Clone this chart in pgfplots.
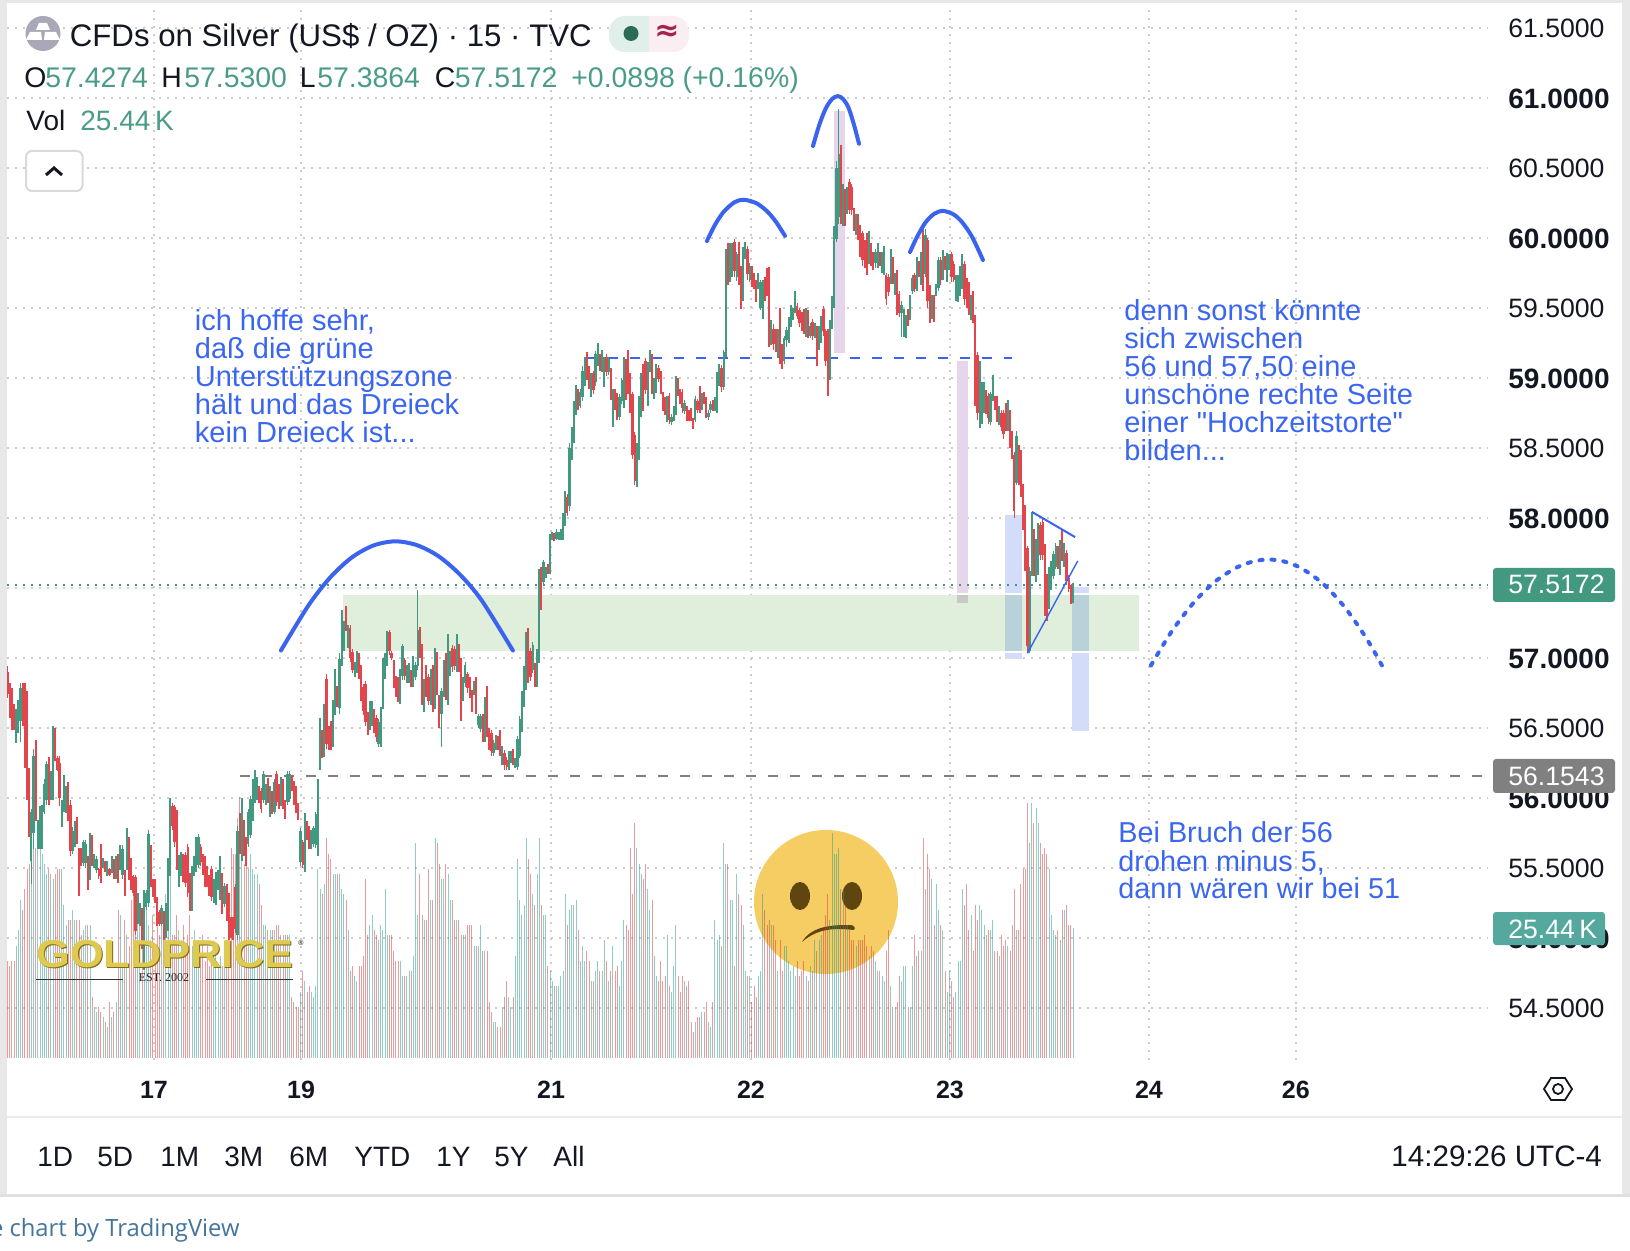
\documentclass[border=0pt]{standalone}
\usepackage{fontspec}
\setmainfont{Liberation Sans}
\newfontfamily\plainq{Liberation Sans}
\newfontfamily\serifx{Liberation Serif}
\newfontfamily\opensans{Open Sans}
\newfontfamily\dejavu{DejaVu Sans}
\usepackage{pgfplots}
\usepackage{pgfplotstable}
\pgfplotsset{compat=1.18}
\definecolor{cg}{HTML}{43997F}
\definecolor{cr}{HTML}{E2464C}
\definecolor{vg}{HTML}{279B8B}
\definecolor{vr}{HTML}{D73939}
\definecolor{txt}{HTML}{131722}
\definecolor{gt}{HTML}{4A9C88}
\definecolor{blu}{HTML}{3A64F0}
\definecolor{tb}{HTML}{3B66F0}
\pgfplotstableread{
i o h l c v
0 56.90 56.94 56.71 56.74 19
1 56.80 56.82 56.57 56.60 18
2 56.72 56.78 56.48 56.55 19
3 56.64 56.67 56.48 56.51 19
4 56.42 56.63 56.39 56.60 22
5 56.50 56.70 56.46 56.66 25
6 56.55 56.82 56.40 56.78 31
7 56.80 56.82 56.51 56.55 29
8 56.78 56.82 56.21 56.25 33
9 56.72 56.76 55.98 56.05 37
10 56.20 56.21 55.72 55.75 38
11 55.55 55.92 55.38 55.90 34
12 55.75 56.35 55.63 56.30 41
13 56.38 56.41 55.83 55.90 41
14 55.68 55.84 55.63 55.82 41
15 55.66 55.94 55.63 55.90 41
16 55.70 55.95 55.63 55.92 40
17 55.90 56.13 55.88 56.10 38
18 55.98 56.26 55.95 56.24 36
19 56.26 56.29 55.95 55.98 37
20 56.00 56.19 55.98 56.16 36
21 56.02 56.51 55.98 56.48 35
22 56.48 56.50 56.26 56.28 36
23 56.28 56.30 56.19 56.20 37
24 56.25 56.30 55.94 56.00 37
25 55.85 55.98 55.79 55.95 37
26 55.95 56.16 55.90 56.12 30
27 55.92 56.08 55.89 56.05 26
28 56.08 56.11 55.83 55.88 27
29 55.95 55.98 55.58 55.62 27
30 55.62 55.79 55.60 55.76 29
31 55.68 55.83 55.65 55.80 27
32 55.84 55.86 55.67 55.70 27
33 55.60 55.64 55.30 55.40 27
34 55.62 55.64 55.51 55.53 24
35 55.53 55.70 55.51 55.68 25
36 55.53 55.70 55.50 55.67 26
37 55.56 55.58 55.34 55.37 26
38 55.45 55.75 55.41 55.72 26
39 55.70 55.73 55.51 55.54 12
40 55.52 55.60 55.50 55.58 10
41 55.48 55.58 55.46 55.56 9
42 55.49 55.50 55.42 55.44 10
43 55.65 55.67 55.39 55.42 9
44 55.51 55.57 55.50 55.55 8
45 55.54 55.55 55.47 55.48 7
46 55.46 55.55 55.44 55.53 6
47 55.49 55.50 55.44 55.45 11
48 55.48 55.58 55.46 55.56 8
49 55.54 55.56 55.42 55.45 9
50 55.44 55.58 55.42 55.56 11
51 55.58 55.60 55.39 55.42 29
52 55.50 55.66 55.48 55.64 28
53 55.45 55.66 55.42 55.63 18
54 55.46 55.48 55.30 55.33 27
55 55.50 55.78 55.48 55.75 24
56 55.70 55.72 55.41 55.44 22
57 55.55 55.57 55.34 55.37 31
58 55.44 55.45 55.30 55.32 33
59 55.43 55.45 55.02 55.05 35
60 55.12 55.32 55.10 55.30 32
61 55.10 55.25 55.08 55.23 30
62 55.19 55.21 54.92 54.95 28
63 54.80 55.34 54.77 55.32 25
64 55.22 55.34 55.20 55.32 31
65 55.25 55.77 55.22 55.74 26
66 55.64 55.66 55.36 55.40 23
67 55.40 55.42 55.29 55.31 28
68 55.40 55.42 55.25 55.27 22
69 55.27 55.29 55.08 55.11 26
70 55.18 55.20 55.08 55.10 24
71 55.10 55.23 55.08 55.21 30
72 55.17 55.19 54.98 55.01 26
73 55.02 55.25 55.00 55.23 32
74 55.08 55.57 55.05 55.54 28
75 55.47 56.00 55.44 55.97 36
76 55.94 55.96 55.77 55.80 24
77 55.93 55.95 55.65 55.68 24
78 55.89 55.91 55.48 55.52 28
79 55.39 55.59 55.36 55.57 25
80 55.46 55.61 55.44 55.59 23
81 55.58 55.60 55.40 55.43 26
82 55.59 55.61 55.36 55.39 20
83 55.65 55.67 55.29 55.32 24
84 55.44 55.46 55.19 55.22 28
85 55.22 55.51 55.19 55.48 22
86 55.46 55.58 55.44 55.56 25
87 55.49 55.72 55.47 55.70 21
88 55.52 55.74 55.50 55.72 23
89 55.65 55.67 55.51 55.54 20
90 55.58 55.60 55.45 55.48 24
91 55.56 55.58 55.36 55.39 19
92 55.49 55.51 55.36 55.38 22
93 55.43 55.45 55.30 55.33 18
94 55.49 55.51 55.26 55.29 21
95 55.27 55.42 55.25 55.40 20
96 55.25 55.47 55.23 55.45 22
97 55.36 55.48 55.34 55.46 18
98 55.30 55.58 55.27 55.55 20
99 55.44 55.46 55.17 55.20 18
100 55.24 55.39 55.22 55.37 20
101 55.36 55.38 55.12 55.15 22
102 55.30 55.32 54.98 55.01 24
103 55.13 55.15 55.00 55.02 41
104 55.13 55.15 54.98 55.00 40
105 55.36 55.38 55.03 55.06 40
106 55.02 55.80 54.98 55.76 47
107 55.87 55.89 55.60 55.63 51
108 55.58 56.00 55.55 55.96 40
109 55.82 55.84 55.58 55.61 38
110 55.70 55.72 55.51 55.54 42
111 55.67 55.92 55.65 55.90 37
112 55.73 56.01 55.71 55.99 40
113 55.85 56.13 55.83 56.11 37
114 55.98 56.20 55.96 56.18 36
115 56.00 56.15 55.98 56.13 36
116 56.06 56.08 55.96 55.98 34
117 56.05 56.07 55.89 55.92 30
118 55.98 56.19 55.96 56.17 26
119 55.97 56.10 55.95 56.08 26
120 56.12 56.14 55.96 55.98 25
121 55.88 56.08 55.86 56.06 25
122 56.03 56.05 55.88 55.90 25
123 55.90 56.13 55.88 56.11 25
124 56.17 56.19 55.94 55.97 26
125 56.08 56.10 55.92 55.94 26
126 55.96 56.15 55.94 56.13 24
127 56.11 56.13 55.92 55.94 24
128 55.96 55.98 55.85 55.87 24
129 55.97 56.19 55.95 56.17 24
130 55.99 56.19 55.97 56.17 24
131 56.14 56.16 56.05 56.07 12
132 56.10 56.12 55.95 55.97 11
133 56.06 56.08 55.89 55.92 10
134 55.94 55.96 55.84 55.86 10
135 55.54 55.78 55.51 55.76 13
136 55.68 55.70 55.50 55.52 17
137 55.50 55.89 55.47 55.86 15
138 55.81 55.83 55.70 55.72 13
139 55.78 55.80 55.63 55.66 14
140 55.65 55.77 55.63 55.75 13
141 55.67 55.80 55.65 55.78 12
142 55.66 55.90 55.64 55.88 14
143 55.61 56.13 55.58 56.10 37
144 56.24 56.57 56.20 56.54 33
145 56.46 56.48 56.28 56.31 32
146 56.32 56.67 56.29 56.64 34
147 56.85 56.88 56.35 56.38 43
148 56.49 56.51 56.34 56.36 40
149 56.53 56.55 56.34 56.37 39
150 56.39 56.70 56.36 56.67 36
151 56.62 56.92 56.59 56.89 36
152 56.78 56.80 56.65 56.67 36
153 56.64 57.03 56.60 56.99 36
154 56.98 57.34 56.94 57.31 33
155 57.08 57.26 57.05 57.24 32
156 57.35 57.37 57.19 57.21 31
157 57.10 57.23 57.07 57.21 25
158 57.21 57.23 56.97 57.00 17
159 57.04 57.06 56.89 56.91 18
160 56.88 56.97 56.86 56.95 16
161 56.92 57.05 56.89 57.03 15
162 57.01 57.03 56.85 56.88 18
163 56.93 56.95 56.69 56.72 18
164 56.79 56.81 56.59 56.62 20
165 56.81 56.83 56.51 56.54 35
166 56.59 56.61 56.45 56.47 24
167 56.50 56.69 56.48 56.67 26
168 56.53 56.69 56.51 56.67 28
169 56.61 56.63 56.46 56.48 25
170 56.57 56.59 56.40 56.43 24
171 56.38 56.56 56.36 56.54 23
172 56.39 56.65 56.36 56.63 26
173 56.66 57.00 56.63 56.97 25
174 56.88 57.03 56.85 57.01 33
175 56.97 57.19 56.94 57.17 24
176 57.18 57.20 57.02 57.05 24
177 57.03 57.05 56.98 57.00 24
178 56.96 56.98 56.78 56.81 21
179 56.85 56.87 56.72 56.75 19
180 56.84 56.86 56.68 56.71 19
181 56.70 56.92 56.67 56.90 19
182 56.87 57.10 56.84 57.08 16
183 56.98 57.00 56.84 56.87 16
184 56.84 56.95 56.82 56.93 16
185 56.84 56.96 56.82 56.94 17
186 56.89 56.91 56.79 56.81 17
187 56.81 57.01 56.79 56.99 20
188 56.86 56.97 56.84 56.95 42
189 56.94 57.48 56.91 57.20 28
190 57.20 57.22 57.00 57.03 36
191 57.08 57.10 56.66 56.70 28
192 56.64 56.85 56.61 56.83 27
193 56.93 56.95 56.72 56.75 27
194 56.86 56.88 56.66 56.69 37
195 56.69 56.92 56.66 56.90 31
196 56.93 56.95 56.61 56.64 31
197 56.66 57.07 56.63 57.04 43
198 57.02 57.04 56.73 56.76 42
199 56.71 56.73 56.50 56.53 38
200 56.60 56.78 56.36 56.76 35
201 56.75 56.98 56.72 56.96 35
202 57.01 57.03 56.70 56.73 38
203 56.69 57.17 56.66 57.14 36
204 56.90 57.05 56.87 57.03 31
205 57.07 57.09 56.90 56.93 31
206 57.06 57.08 56.91 56.94 27
207 56.93 57.17 56.90 57.15 27
208 57.08 57.10 56.90 56.93 27
209 56.98 57.00 56.55 56.60 24
210 56.72 56.86 56.69 56.84 24
211 56.82 56.97 56.79 56.95 24
212 56.88 56.90 56.75 56.78 26
213 56.84 56.86 56.71 56.74 26
214 56.75 56.77 56.61 56.64 26
215 56.75 56.83 56.73 56.81 22
216 56.84 56.86 56.60 56.63 22
217 56.52 56.60 56.50 56.58 22
218 56.49 56.60 56.47 56.58 26
219 56.58 56.60 56.40 56.43 21
220 56.43 56.72 56.40 56.70 21
221 56.78 56.80 56.43 56.46 21
222 56.48 56.50 56.34 56.37 11
223 56.46 56.48 56.30 56.33 9
224 56.32 56.41 56.30 56.39 7
225 56.36 56.45 56.34 56.43 7
226 56.42 56.44 56.34 56.36 6
227 56.46 56.48 56.30 56.33 6
228 56.25 56.37 56.23 56.35 10
229 56.32 56.34 56.20 56.23 12
230 56.27 56.29 56.20 56.22 15
231 56.22 56.33 56.20 56.31 12
232 56.27 56.33 56.25 56.31 10
233 56.33 56.35 56.23 56.25 12
234 56.23 56.28 56.21 56.26 20
235 56.22 56.44 56.20 56.42 39
236 56.30 56.58 56.28 56.56 31
237 56.49 56.76 56.47 56.74 28
238 56.67 56.94 56.65 56.92 30
239 56.79 57.18 56.77 57.15 43
240 57.19 57.21 56.82 56.85 39
241 57.05 57.07 56.83 56.86 36
242 56.91 57.11 56.89 57.09 32
243 56.94 56.96 56.79 56.82 30
244 56.81 57.06 56.79 57.04 36
245 56.98 57.63 56.96 57.60 43
246 57.63 57.65 57.34 57.37 30
247 57.54 57.70 57.52 57.68 28
248 57.59 57.65 57.57 57.63 28
249 57.66 57.67 57.60 57.62 18
250 57.62 57.88 57.60 57.86 17
251 57.86 57.90 57.84 57.88 15
252 57.88 57.89 57.83 57.85 14
253 57.85 57.92 57.84 57.90 14
254 57.86 57.90 57.84 57.88 14
255 57.86 57.92 57.84 57.90 16
256 57.87 58.03 57.84 58.01 17
257 57.97 58.19 57.94 58.16 32
258 58.15 58.17 58.01 58.03 26
259 58.08 58.53 58.05 58.50 29
260 58.44 58.65 58.41 58.63 30
261 58.56 58.83 58.53 58.80 30
262 58.75 58.95 58.73 58.93 31
263 58.90 58.92 58.77 58.80 25
264 58.80 58.92 58.78 58.90 19
265 58.86 59.08 58.83 59.05 22
266 58.97 59.15 58.94 59.13 19
267 59.16 59.18 58.98 59.01 21
268 59.06 59.08 58.92 58.95 19
269 58.88 59.03 58.86 59.01 15
270 59.03 59.05 58.88 58.91 15
271 58.97 59.19 58.94 59.17 17
272 59.10 59.25 59.08 59.23 19
273 59.15 59.17 59.05 59.07 17
274 59.06 59.20 59.04 59.18 17
275 58.95 59.15 58.93 59.13 23
276 59.15 59.17 59.01 59.04 19
277 59.04 59.15 59.02 59.13 15
278 59.05 59.07 58.84 58.87 17
279 58.68 58.92 58.65 58.90 22
280 58.90 58.92 58.77 58.80 17
281 58.87 58.89 58.70 58.73 18
282 58.72 58.88 58.70 58.86 14
283 58.83 59.00 58.81 58.98 19
284 58.80 59.15 58.78 59.13 27
285 59.11 59.13 58.84 58.87 26
286 59.18 59.20 58.88 58.91 25
287 59.01 59.03 58.75 58.78 41
288 58.88 58.90 58.42 58.45 32
289 58.59 58.61 58.23 58.26 46
290 58.25 58.53 58.22 58.51 41
291 58.44 58.87 58.41 58.85 38
292 58.75 59.03 58.72 59.01 36
293 59.08 59.10 58.76 58.79 35
294 59.12 59.14 58.88 58.91 38
295 58.83 59.11 58.80 59.09 33
296 59.07 59.20 59.04 59.18 29
297 59.15 59.17 58.88 58.91 31
298 58.87 59.00 58.85 58.98 20
299 58.92 59.10 58.89 59.08 16
300 59.07 59.09 58.97 58.99 15
301 59.03 59.05 58.88 58.91 19
302 58.88 58.90 58.76 58.78 15
303 58.84 58.86 58.73 58.75 16
304 58.70 58.87 58.68 58.85 24
305 58.87 58.89 58.67 58.70 14
306 58.68 58.74 58.66 58.72 13
307 58.71 58.80 58.69 58.78 18
308 58.76 59.01 58.73 58.99 26
309 58.98 59.00 58.87 58.89 16
310 58.90 58.92 58.81 58.83 13
311 58.90 58.92 58.75 58.78 16
312 58.76 58.84 58.74 58.82 15
313 58.78 58.80 58.69 58.71 14
314 58.75 58.77 58.69 58.71 15
315 58.76 58.78 58.69 58.71 7
316 58.70 58.71 58.63 58.65 5
317 58.70 58.87 58.68 58.85 7
318 58.83 58.85 58.75 58.77 8
319 58.92 58.94 58.75 58.78 8
320 58.79 58.89 58.77 58.87 9
321 58.88 58.90 58.81 58.83 9
322 58.84 58.86 58.71 58.74 11
323 58.72 58.77 58.70 58.75 7
324 58.77 58.83 58.75 58.81 6
325 58.82 58.84 58.76 58.78 11
326 58.78 58.86 58.76 58.84 27
327 58.78 59.04 58.75 59.01 23
328 58.96 59.10 58.94 59.08 24
329 59.07 59.09 58.90 58.93 22
330 58.93 59.20 58.91 59.18 42
331 59.25 59.92 59.15 59.85 38
332 59.94 59.96 59.66 59.70 38
333 59.71 59.96 59.68 59.94 31
334 59.74 59.96 59.72 59.94 31
335 59.97 59.99 59.72 59.76 18
336 59.72 59.90 59.69 59.88 36
337 59.95 59.97 59.66 59.70 32
338 59.78 59.80 59.49 59.53 30
339 59.58 59.93 59.55 59.90 26
340 59.87 59.97 59.85 59.95 17
341 59.92 59.94 59.70 59.74 16
342 59.70 59.82 59.68 59.80 16
343 59.78 59.80 59.65 59.68 11
344 59.73 59.75 59.63 59.66 14
345 59.68 59.70 59.54 59.57 12
346 59.65 59.75 59.63 59.73 16
347 59.50 59.70 59.48 59.68 17
348 59.44 59.70 59.42 59.68 32
349 59.68 59.72 59.55 59.60 29
350 59.76 59.78 59.58 59.62 26
351 59.67 59.79 59.22 59.26 27
352 59.25 59.41 59.23 59.39 26
353 59.35 59.38 59.20 59.24 26
354 59.33 59.35 59.18 59.21 23
355 59.16 59.35 59.14 59.33 17
356 59.48 59.50 59.10 59.14 23
357 59.22 59.24 59.06 59.09 17
358 59.12 59.30 59.10 59.28 22
359 59.27 59.36 59.22 59.34 22
360 59.27 59.43 59.25 59.41 19
361 59.38 59.52 59.36 59.50 17
362 59.43 59.50 59.41 59.48 18
363 59.48 59.62 59.46 59.60 16
364 59.51 59.53 59.42 59.44 19
365 59.48 59.50 59.36 59.39 16
366 59.45 59.47 59.33 59.35 17
367 59.47 59.49 59.31 59.34 19
368 59.31 59.50 59.29 59.48 16
369 59.46 59.48 59.28 59.31 15
370 59.30 59.39 59.28 59.37 18
371 59.40 59.42 59.27 59.30 17
372 59.30 59.39 59.28 59.37 23
373 59.35 59.37 59.08 59.12 21
374 59.22 59.37 59.20 59.35 23
375 59.27 59.44 59.25 59.42 24
376 59.49 59.51 59.30 59.33 25
377 59.33 59.35 59.08 59.12 28
378 59.33 59.35 58.87 58.92 32
379 59.00 59.41 58.98 59.38 27
380 59.37 59.58 59.35 59.56 44
381 59.52 60.08 59.50 60.05 40
382 59.99 60.55 59.97 60.50 40
383 60.15 60.92 60.10 60.60 41
384 60.63 60.66 60.10 60.14 33
385 60.10 60.38 60.08 60.35 33
386 60.33 60.35 60.08 60.12 30
387 60.19 60.36 60.17 60.34 26
388 60.40 60.42 60.17 60.20 25
389 60.36 60.38 60.16 60.20 23
390 60.19 60.21 60.05 60.08 23
391 60.04 60.17 60.02 60.15 22
392 60.15 60.17 59.98 60.01 23
393 60.07 60.09 59.86 59.90 23
394 60.03 60.05 59.80 59.84 23
395 59.90 59.98 59.78 59.82 24
396 60.01 60.03 59.73 59.77 22
397 59.83 60.05 59.81 60.03 20
398 59.94 59.96 59.80 59.83 22
399 59.88 59.90 59.77 59.80 21
400 59.82 59.92 59.78 59.90 19
401 59.80 59.96 59.78 59.94 17
402 59.88 59.90 59.80 59.82 17
403 59.78 59.90 59.75 59.88 16
404 59.75 59.94 59.73 59.92 15
405 59.73 59.75 59.52 59.56 21
406 59.72 59.74 59.58 59.61 25
407 59.69 59.92 59.67 59.90 14
408 59.84 59.86 59.67 59.71 10
409 59.61 59.75 59.59 59.73 10
410 59.75 59.77 59.45 59.49 11
411 59.60 59.62 59.43 59.46 16
412 59.46 59.55 59.29 59.52 15
413 59.31 59.49 59.29 59.47 18
414 59.30 59.45 59.28 59.43 18
415 59.47 59.49 59.37 59.40 10
416 59.43 59.59 59.41 59.57 10
417 59.62 59.73 59.60 59.71 18
418 59.73 59.75 59.61 59.63 24
419 59.64 59.86 59.62 59.84 20
420 59.80 59.83 59.72 59.75 21
421 59.68 59.90 59.66 59.88 21
422 60.04 60.06 59.62 59.66 43
423 59.74 60.06 59.72 60.02 33
424 59.98 60.00 59.50 59.55 40
425 59.64 59.66 59.39 59.43 37
426 59.44 59.59 59.42 59.57 35
427 59.57 59.59 59.40 59.43 26
428 59.60 59.67 59.58 59.65 34
429 59.64 59.86 59.62 59.84 29
430 59.84 59.86 59.66 59.70 26
431 59.72 59.91 59.70 59.89 25
432 59.85 59.87 59.77 59.79 17
433 59.70 59.89 59.68 59.87 13
434 59.79 59.88 59.77 59.86 17
435 59.88 59.90 59.68 59.72 15
436 59.81 59.83 59.68 59.70 12
437 59.57 59.73 59.55 59.71 13
438 59.56 59.73 59.54 59.71 19
439 59.60 59.80 59.58 59.78 19
440 59.65 59.88 59.63 59.86 33
441 59.81 59.83 59.52 59.56 30
442 59.69 59.71 59.50 59.54 34
443 59.66 59.68 59.45 59.49 25
444 59.43 59.59 59.41 59.57 28
445 59.60 59.62 59.39 59.42 21
446 59.43 59.45 58.80 58.86 30
447 59.16 59.18 58.70 58.75 27
448 58.66 59.12 58.64 59.08 30
449 58.69 58.97 58.67 58.95 29
450 58.77 58.97 58.75 58.95 26
451 58.89 58.91 58.74 58.77 24
452 58.87 58.89 58.67 58.71 25
453 58.68 58.90 58.66 58.88 25
454 58.85 59.02 58.83 59.00 27
455 58.85 58.87 58.77 58.79 21
456 58.85 58.87 58.68 58.72 21
457 58.70 58.80 58.66 58.78 20
458 58.75 58.77 58.62 58.65 24
459 58.75 58.77 58.56 58.60 22
460 58.80 58.82 58.62 58.65 23
461 58.64 58.84 58.62 58.82 22
462 58.75 58.77 58.50 58.54 21
463 58.60 58.62 58.42 58.45 26
464 58.45 58.47 58.00 58.05 33
465 58.25 58.62 58.23 58.58 25
466 58.50 58.52 58.23 58.30 25
467 58.46 58.48 58.15 58.20 34
468 58.22 58.24 57.91 57.95 37
469 57.78 58.09 57.62 57.65 37
470 57.78 57.80 57.03 57.08 50
471 57.05 57.65 57.03 57.62 42
472 57.60 58.04 57.58 58.01 50
473 57.90 57.92 57.58 57.62 46
474 57.56 57.85 57.54 57.83 49
475 57.61 57.96 57.59 57.94 46
476 57.95 57.97 57.70 57.73 42
477 57.97 57.99 57.70 57.73 40
478 57.79 57.81 57.30 57.34 41
479 57.58 57.60 57.26 57.30 40
480 57.37 57.65 57.35 57.63 37
481 57.50 57.69 57.48 57.67 28
482 57.58 57.76 57.56 57.74 25
483 57.65 57.82 57.63 57.80 24
484 57.78 57.80 57.63 57.66 25
485 57.61 57.84 57.59 57.82 23
486 57.90 57.92 57.69 57.72 29
487 57.67 57.82 57.65 57.80 29
488 57.75 57.77 57.52 57.55 30
489 57.57 57.59 57.47 57.49 26
490 57.50 57.52 57.38 57.41 26
491 57.4274 57.53 57.3864 57.5172 25.44
}\candles
\pgfplotsset{base/.style={scale only axis,width=740.5pt,height=527pt,at={(3.5pt,95pt)},anchor=south west,xmin=-0.23,xmax=682.25}}
\newcommand{\T}[5]{\node[anchor=base west,inner sep=0pt,text=#4,font=\fontsize{#3pt}{#3pt}\selectfont] at (#1,#2) {#5};}
\newcommand{\B}[1]{{\fontsize{14pt}{14pt}\selectfont\bfseries #1}}
\begin{document}
\begin{tikzpicture}
\path[use as bounding box,fill=white] (0,0) rectangle (815pt,625pt);
\begin{axis}[base,ymin=54.125,ymax=61.654,
 xtick={67.5,135.3,250.5,342.6,434.3,526,593.7},xticklabels={17,19,21,22,23,24,26},
 ytick={54.5,55,55.5,56,56.5,57,57.5,58,58.5,59,59.5,60,60.5,61,61.5},
 yticklabels={54.5000,\B{55.0000},55.5000,\B{56.0000},56.5000,\B{57.0000},57.5000,\B{58.0000},58.5000,\B{59.0000},59.5000,\B{60.0000},60.5000,\B{61.0000},61.5000},
 yticklabel pos=right,grid=major,major tick length=0pt,axis line style={draw=none},
 grid style={color=black!20,line width=1pt,dash pattern=on 1pt off 3pt},
 x tick label style={font=\fontsize{12.5pt}{12.5pt}\selectfont\bfseries,text=txt,anchor=center,yshift=-15pt},
 y tick label style={font=\fontsize{13.3pt}{13.3pt}\selectfont,text=txt,anchor=west,inner sep=0pt,xshift=10pt,yshift=-.5pt}]
\end{axis}
\begin{scope}[x=0.5pt,y=-0.5pt,yshift=625pt]
\fill[color={rgb,255:red,246;green,205;blue,99}] (826,902) circle (72);
\fill[color={rgb,255:red,95;green,69;blue,16}] (800,896) ellipse (10 and 14);
\fill[color={rgb,255:red,95;green,69;blue,16}] (852,896) ellipse (10 and 14);
\fill[color={rgb,255:red,95;green,69;blue,16}] (802,942) .. controls (812,925) and (835,925) .. (850,925) .. controls (854,925) and (856,928) .. (854,930) .. controls (835,928) and (818,928) .. cycle;
\end{scope}
\begin{axis}[base,hide axis,ymin=-0.39,ymax=205.87]
\addplot[ycomb,no marks,draw=vg,draw opacity=.5,line width=.45pt] table[x=i,y expr={\thisrow{c}>=\thisrow{o}?\thisrow{v}:nan}]{\candles};
\addplot[ycomb,no marks,draw=vr,draw opacity=.5,line width=.45pt] table[x=i,y expr={\thisrow{c}<\thisrow{o}?\thisrow{v}:nan}]{\candles};
\end{axis}
\begin{axis}[base,hide axis,ymin=54.125,ymax=61.654]
\addplot[fill={rgb,255:red,224;green,238;blue,220},draw=none] coordinates {(154.5,57.446)(521.4,57.446)(521.4,57.046)(154.5,57.046)} --cycle;
\addplot[fill={rgb,255:red,230;green,214;blue,235},draw=none] coordinates {(380.9,60.904)(385.9,60.904)(385.9,59.177)(380.9,59.177)} --cycle;
\addplot[fill={rgb,255:red,230;green,214;blue,235},draw=none] coordinates {(437.6,59.118)(442.6,59.118)(442.6,57.461)(437.6,57.461)} --cycle;
\addplot[fill={rgb,255:red,200;green,200;blue,200},draw=none] coordinates {(437.6,57.446)(442.6,57.446)(442.6,57.389)(437.6,57.389)} --cycle;
\addplot[fill={rgb,255:red,211;green,221;blue,250},draw=none] coordinates {(459.7,58.018)(467.5,58.018)(467.5,57.461)(459.7,57.461)} --cycle;
\addplot[fill={rgb,255:red,185;green,209;blue,216},draw=none] coordinates {(459.7,57.446)(467.5,57.446)(467.5,57.046)(459.7,57.046)} --cycle;
\addplot[fill={rgb,255:red,211;green,221;blue,250},draw=none] coordinates {(459.7,57.032)(467.5,57.032)(467.5,56.989)(459.7,56.989)} --cycle;
\addplot[fill={rgb,255:red,211;green,221;blue,250},draw=none] coordinates {(490.6,57.504)(498.4,57.504)(498.4,57.461)(490.6,57.461)} --cycle;
\addplot[fill={rgb,255:red,185;green,209;blue,216},draw=none] coordinates {(490.6,57.446)(498.4,57.446)(498.4,57.046)(490.6,57.046)} --cycle;
\addplot[fill={rgb,255:red,211;green,221;blue,250},draw=none] coordinates {(490.6,57.032)(498.4,57.032)(498.4,56.475)(490.6,56.475)} --cycle;
\addplot[draw=cg,line width=1pt,dash pattern=on 1pt off 3pt] coordinates {(-0.23,57.5172)(682.25,57.5172)};
\addplot[draw=black!50,line width=1pt,dash pattern=on 5pt off 6pt] coordinates {(107.1,56.1543)(680.4,56.1543)};
\addplot[draw=blu,line width=1pt,dash pattern=on 5pt off 6pt] coordinates {(266.4,59.14)(463.1,59.14)};
\addplot[draw=none,mark=none,error bars/.cd,y dir=plus,y explicit,error mark=none,error bar style={line width=.85pt,color=cg}] table[x=i,y expr={\thisrow{c}>=\thisrow{o}?\thisrow{l}:nan},y error plus expr={\thisrow{h}-\thisrow{l}}]{\candles};
\addplot[draw=none,mark=none,error bars/.cd,y dir=plus,y explicit,error mark=none,error bar style={line width=.85pt,color=cr}] table[x=i,y expr={\thisrow{c}<\thisrow{o}?\thisrow{l}:nan},y error plus expr={\thisrow{h}-\thisrow{l}}]{\candles};
\addplot[draw=none,mark=none,error bars/.cd,y dir=plus,y explicit,error mark=none,error bar style={line width=1.1pt,color=cg}] table[x=i,y expr={\thisrow{c}>=\thisrow{o}?\thisrow{o}:nan},y error plus expr={\thisrow{c}-\thisrow{o}}]{\candles};
\addplot[draw=none,mark=none,error bars/.cd,y dir=plus,y explicit,error mark=none,error bar style={line width=1.1pt,color=cr}] table[x=i,y expr={\thisrow{c}<\thisrow{o}?\thisrow{c}:nan},y error plus expr={\thisrow{o}-\thisrow{c}}]{\candles};
\addplot[smooth,draw=blu,line width=2pt,line cap=round] coordinates {(126,57.05)(138.6,57.37)(148.6,57.57)(158.6,57.714)(168.6,57.80)(178.6,57.83)(188.6,57.803)(198.6,57.724)(208.6,57.591)(218.6,57.406)(232.9,57.05)};
\addplot[smooth,draw=blu,line width=2pt,line cap=round] coordinates {(322.3,59.975)(326,60.09)(330,60.183)(335,60.252)(339.2,60.27)(345,60.246)(350,60.188)(354,60.115)(358.3,60.012)};
\addplot[smooth,draw=blu,line width=2pt,line cap=round] coordinates {(371.2,60.654)(374,60.80)(377,60.92)(380,60.99)(382.7,61.01)(385,60.99)(387.5,60.93)(390,60.81)(392.4,60.67)};
\addplot[smooth,draw=blu,line width=2pt,line cap=round] coordinates {(415.9,59.896)(419,60.0)(423,60.107)(427,60.169)(431.1,60.19)(436,60.165)(440,60.108)(444.5,60.005)(449.5,59.84)};
\addplot[smooth,draw=blu,line width=2pt,line cap=round,dash pattern=on 1.6pt off 4.4pt] coordinates {(526.9,56.943)(536.3,57.182)(546.3,57.386)(556.3,57.54)(566.3,57.642)(574.3,57.687)(581.3,57.7)(588.3,57.686)(596.3,57.637)(606.3,57.526)(616.3,57.358)(626.3,57.135)(633.4,56.943)};
\addplot[draw=blu,line width=1pt] coordinates {(472.1,58.04)(492,57.86)};
\addplot[draw=blu,line width=.7pt] coordinates {(470,57.03)(493.2,57.69)};
\end{axis}
\begin{scope}[x=0.5pt,y=-0.5pt,yshift=625pt]
% chrome
\fill[black!9] (0,0) rectangle (7,1195);
\fill[black!9] (1622,0) rectangle (1630,1195);
\fill[black!9] (0,0) rectangle (1630,3);
\fill[black!8] (7,1115.5) rectangle (1622,1118);
\fill[black!12] (0,1194) rectangle (1630,1197);
% head
\fill[color={rgb,255:red,169;green,168;blue,184}] (43,33.5) circle (17.5);
\fill[white] (39,23)--(47,23)--(50,30)--(36,30)--cycle;
\fill[white] (30,32)--(41,32)--(42,40)--(26,40)--cycle;
\fill[white] (45,32)--(56,32)--(60,40)--(44,40)--cycle;
\T{69.5}{46.5}{15.6}{txt}{CFDs on Silver (US\$ / OZ) · 15 · TVC}
\begin{scope}\clip (609,16) rectangle (649,52);\fill[color={rgb,255:red,225;green,239;blue,234},rounded corners=8pt] (609,16) rectangle (689,52);\end{scope}
\begin{scope}\clip (649,16) rectangle (689,52);\fill[color={rgb,255:red,251;green,238;blue,242},rounded corners=8pt] (609,16) rectangle (689,52);\end{scope}
\fill[color={rgb,255:red,42;green,107;blue,87}] (631,33.5) circle (7.5);
\node[inner sep=0pt,text={rgb,255:red,165;green,35;blue,79},font=\fontsize{15pt}{15pt}\selectfont\dejavu\bfseries] at (667,33) {≈};
\T{24}{88}{14.2}{txt}{O}\T{45}{88}{14.2}{gt}{57.4274}
\T{161}{88}{14.2}{txt}{H}\T{184}{88}{14.2}{gt}{57.5300}
\T{299.5}{88}{14.2}{txt}{L}\T{317}{88}{14.2}{gt}{57.3864}
\T{434.5}{88}{14.2}{txt}{C}\T{454.5}{88}{14.2}{gt}{57.5172}
\T{571}{88}{14.2}{gt}{+0.0898 (+0.16\%)}
\T{26}{131}{14}{txt}{Vol}\T{80}{131}{14}{gt}{25.44\,K}
\draw[black!15,line width=1pt,rounded corners=3pt,fill=white] (26,151) rectangle (82.5,191);
\draw[txt,line width=1.5pt] (46,175)--(54,168)--(62,175);
% price tags
\fill[cg,rounded corners=1.5pt] (1493,568) rectangle (1615,602);
\T{1508}{594}{13.3}{white}{57.5172}
\fill[black!50,rounded corners=1.5pt] (1493,759) rectangle (1615,793);
\T{1508}{785}{13.3}{white}{56.1543}
\fill[color={rgb,255:red,85;green,168;blue,157},rounded corners=1.5pt] (1493,912) rectangle (1605,945);
\T{1508}{938}{13.3}{white}{25.44\,K}
% bottom
\draw[txt,line width=.9pt] (1544,1089)--(1551,1078)--(1565,1078)--(1572,1089)--(1565,1100)--(1551,1100)--cycle;
\draw[txt,line width=.9pt] (1558,1089) circle (5);
\T{37}{1166}{14}{txt}{1D}\T{97}{1166}{14}{txt}{5D}\T{160}{1166}{14}{txt}{1M}\T{224}{1166}{14}{txt}{3M}\T{289}{1166}{14}{txt}{6M}\T{354}{1166}{14}{txt}{YTD}\T{436}{1166}{14}{txt}{1Y}\T{494}{1166}{14}{txt}{5Y}\T{553}{1166}{14}{txt}{All}
\T{1391}{1166}{14.8}{txt}{14:29:26 UTC-4}
\node[anchor=base east,inner sep=0pt,text={rgb,255:red,68;green,117;blue,156},font=\fontsize{11.9pt}{11.9pt}\selectfont\opensans] at (240,1236) {e chart by TradingView};
% notes
\T{194.5}{331}{14.5}{tb}{ich hoffe sehr,}
\T{194.5}{359}{14.5}{tb}{daß die grüne}
\T{194.5}{387}{14.5}{tb}{Unterstützungszone}
\T{194.5}{415}{14.5}{tb}{hält und das Dreieck}
\T{194.5}{443}{14.5}{tb}{kein Dreieck ist...}
\T{1124}{321}{14.5}{tb}{denn sonst könnte}
\T{1124}{349}{14.5}{tb}{sich zwischen}
\T{1124}{377}{14.5}{tb}{56 und 57,50 eine}
\T{1124}{405}{14.5}{tb}{unschöne rechte Seite}
\T{1124}{433}{14.5}{tb}{einer {\plainq"Hochzeitstorte"}}
\T{1124}{461}{14.5}{tb}{bilden...}
\T{1118}{842}{14.4}{tb}{Bei Bruch der 56}
\T{1118}{871}{14.4}{tb}{drohen minus 5,}
\T{1118}{899}{14.4}{tb}{dann wären wir bei 51}
% logo
\node[anchor=base west,inner sep=0pt,xscale=1.11,text={rgb,255:red,125;green,108;blue,25},font=\fontsize{19.5pt}{19.5pt}\selectfont\bfseries] at (37,968) {GOLDPRICE};
\node[anchor=base west,inner sep=0pt,xscale=1.11,text={rgb,255:red,222;green,202;blue,80},font=\fontsize{19.5pt}{19.5pt}\selectfont\bfseries] at (36,967) {GOLDPRICE};
\T{298}{945}{3.5}{black}{®}
\draw[black!80,line width=.5pt] (36,979)--(123,979);
\draw[black!80,line width=.5pt] (206,979)--(293,979);
\node[inner sep=0pt,text=black!85,font=\fontsize{6pt}{6pt}\selectfont\serifx] at (164,978) {EST. 2002};
\end{scope}
\end{tikzpicture}
\end{document}
